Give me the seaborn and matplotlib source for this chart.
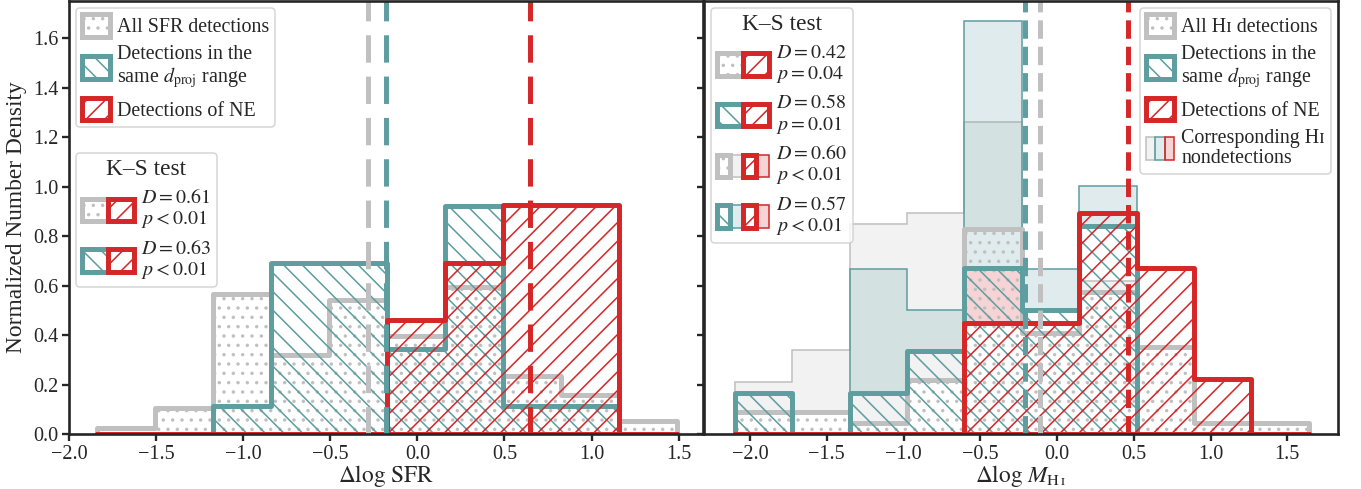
import numpy as np
import pandas as pd
import matplotlib
matplotlib.use("Agg")
import matplotlib.pyplot as plt
import seaborn as sns
from matplotlib.patches import Patch
from matplotlib.colors import to_rgba
from matplotlib.legend_handler import HandlerTuple

# ---- data (normalized densities per bin) ----
sfr_edges = np.linspace(-1.84, 1.49, 11)
sfr_all = [0.026, 0.104, 0.565, 0.318, 0.540, 0.395, 0.595, 0.234, 0.156, 0.052]
sfr_same = [0, 0, 0.115, 0.69, 0.69, 0.345, 0.92, 0.115, 0.115, 0]
sfr_ne = [0, 0, 0, 0, 0, 0.462, 0.693, 0.924, 0.924, 0]
sfr_medians = [-0.283, -0.18, 0.645]
sfr_ks = [("0.61", "<0.01"), ("0.63", "<0.01")]

hi_edges = np.linspace(-2.10, 1.64, 11)
hi_all = [0.088, 0.088, 0.043, 0.219, 0.83, 0.41, 0.575, 0.352, 0.044, 0.044]
hi_same = [0.167, 0, 0.167, 0.335, 0.67, 0.50, 0.84, 0, 0, 0]
hi_ne = [0, 0, 0, 0, 0.448, 0.448, 0.895, 0.672, 0.224, 0]
# nondetections, stacked on top of the detections
hi_all_nd = [0.124, 0.25, 0.805, 0.676, 0.43, 0, 0.044, 0, 0, 0]
hi_same_nd = [0, 0, 0.50, 0.167, 1.0, 0.167, 0.163, 0, 0, 0]
hi_ne_nd = [0, 0, 0, 0, 0.224, 0, 0, 0, 0, 0]
hi_medians = [-0.11, -0.21, 0.46]
hi_ks = [("0.42", "=0.04"), ("0.58", "=0.01"), ("0.60", "<0.01"), ("0.57", "<0.01")]

gray = "#c0c0c0"
teal = "#5f9ea0"
red = "#d62728"
colors = [gray, teal, red]
hatches = ["..", "\\\\", "//"]

DPI = 112
W, H = 1361, 489

sns.set_style("ticks")
plt.rcParams["font.family"] = ["Liberation Serif", "DejaVu Serif"]
plt.rcParams["mathtext.fontset"] = "stix"
plt.rcParams["hatch.linewidth"] = 1.0
plt.rcParams["axes.linewidth"] = 1.7
plt.rcParams["xtick.major.width"] = 1.5
plt.rcParams["ytick.major.width"] = 1.5
plt.rcParams["xtick.major.size"] = 4.5
plt.rcParams["ytick.major.size"] = 4.5
plt.rcParams["xtick.major.pad"] = 2.5
plt.rcParams["ytick.major.pad"] = 2.5
plt.rcParams["xtick.labelsize"] = 13
plt.rcParams["ytick.labelsize"] = 13

fig = plt.figure(figsize=(W / DPI, H / DPI), dpi=DPI)
ax1 = fig.add_axes([69 / W, 1 - 434 / H, 634 / W, 433 / H])
ax2 = fig.add_axes([704 / W, 1 - 434 / H, 634 / W, 433 / H], sharey=ax1)


def step_hist(ax, edges, heights, color, hatch):
    df = pd.DataFrame({"x": (edges[:-1] + edges[1:]) / 2, "w": heights})
    sns.histplot(data=df, x="x", weights="w", bins=list(edges), element="step",
                 fill=True, color=color, facecolor="none", edgecolor=color,
                 hatch=hatch, linewidth=3.2, stat="count", ax=ax)


# left panel
for h, c, ht in zip([sfr_all, sfr_same, sfr_ne], colors, hatches):
    step_hist(ax1, sfr_edges, h, c, ht)
for m, c in zip(sfr_medians, colors):
    ax1.axvline(m, color=c, ls=(0, (5.5, 2.8)), lw=3.2)

# right panel: nondetections first
for det, nd, c in zip([hi_all, hi_same, hi_ne], [hi_all_nd, hi_same_nd, hi_ne_nd], colors):
    top = np.add(det, nd)
    ax2.stairs(top, hi_edges, baseline=np.array(det, float), fill=True,
               facecolor=to_rgba(c, 0.2), edgecolor=c, lw=1)
for h, c, ht in zip([hi_all, hi_same, hi_ne], colors, hatches):
    step_hist(ax2, hi_edges, h, c, ht)
for m, c in zip(hi_medians, colors):
    ax2.axvline(m, color=c, ls="--", lw=3.2)

ax1.set_xlim(-2.0, 1.64)
ax2.set_xlim(-2.30, 1.83)
ax1.set_ylim(0, 1.75)
ax1.set_yticks(np.arange(0, 1.61, 0.2))
ax2.tick_params(labelleft=False)
ax1.set_ylabel("Normalized Number Density", fontsize=15)
ax1.yaxis.set_label_coords(-0.066, 0.5)
ax1.set_xlabel(r"$\Delta\log\,\mathrm{SFR}$", fontsize=15)
ax2.set_xlabel(r"$\Delta\log\,M_{\mathrm{H\,ɪ}}$", fontsize=15)
ax2.set_ylabel("")
for ax in (ax1, ax2):
    ax.xaxis.set_label_coords(0.5, -0.066)


# legends
def det_patch(c, ht):
    return Patch(facecolor="white", edgecolor=c, hatch=ht, lw=3.2)


def nd_patch(c):
    return Patch(facecolor=to_rgba(c, 0.2), edgecolor=c, lw=1)


leg_kw = dict(fontsize=12.9, handlelength=1.4, handleheight=1.35, handletextpad=0.35,
              labelspacing=0.4, borderpad=0.3, borderaxespad=0.35,
              framealpha=0.8, edgecolor="0.8")
ks_kw = {**leg_kw, "handlelength": 2.6, "labelspacing": 0.45, "title_fontsize": 15}
tuple_map = {tuple: HandlerTuple(ndivide=None, pad=0)}


def tighten(leg):
    for t in leg.get_texts():
        t.set_linespacing(1.05)


det_labels = ["Detections in the\nsame $d_{\\mathrm{proj}}$ range", "Detections of NE"]
h_det = [det_patch(c, ht) for c, ht in zip(colors, hatches)]

l1 = ax1.legend(h_det, ["All SFR detections"] + det_labels, loc="upper left",
                bbox_to_anchor=(0.0, 1.0), **leg_kw)
tighten(l1)
ax1.add_artist(l1)
ks_handles = [(h_det[0], h_det[2]), (h_det[1], h_det[2])]
ks_labels = [f"$D={d}$\n$p{p}$" for d, p in sfr_ks]
l1b = ax1.legend(ks_handles, ks_labels, title="K–S test", loc="upper left",
                 bbox_to_anchor=(0.0, 0.666), handler_map=tuple_map, **ks_kw)
tighten(l1b)

h_nd = [nd_patch(c) for c in colors]
l2 = ax2.legend(h_det + [tuple(h_nd)],
                ["All H\u026a detections"] + det_labels + ["Corresponding H\u026a\nnondetections"],
                loc="upper right", bbox_to_anchor=(1.0, 1.0),
                handler_map=tuple_map, **leg_kw)
tighten(l2)
ax2.add_artist(l2)
ks2_handles = [(h_det[0], h_det[2]), (h_det[1], h_det[2]),
               (h_det[0], h_nd[0], h_det[2], h_nd[2]),
               (h_det[1], h_nd[1], h_det[2], h_nd[2])]
ks2_labels = [f"$D={d}$\n$p{p}$" for d, p in hi_ks]
l2b = ax2.legend(ks2_handles, ks2_labels, title="K–S test", loc="upper left",
                 bbox_to_anchor=(0.0, 1.0), handler_map=tuple_map, **ks_kw)
tighten(l2b)

fig.savefig("out.png", dpi=DPI)
